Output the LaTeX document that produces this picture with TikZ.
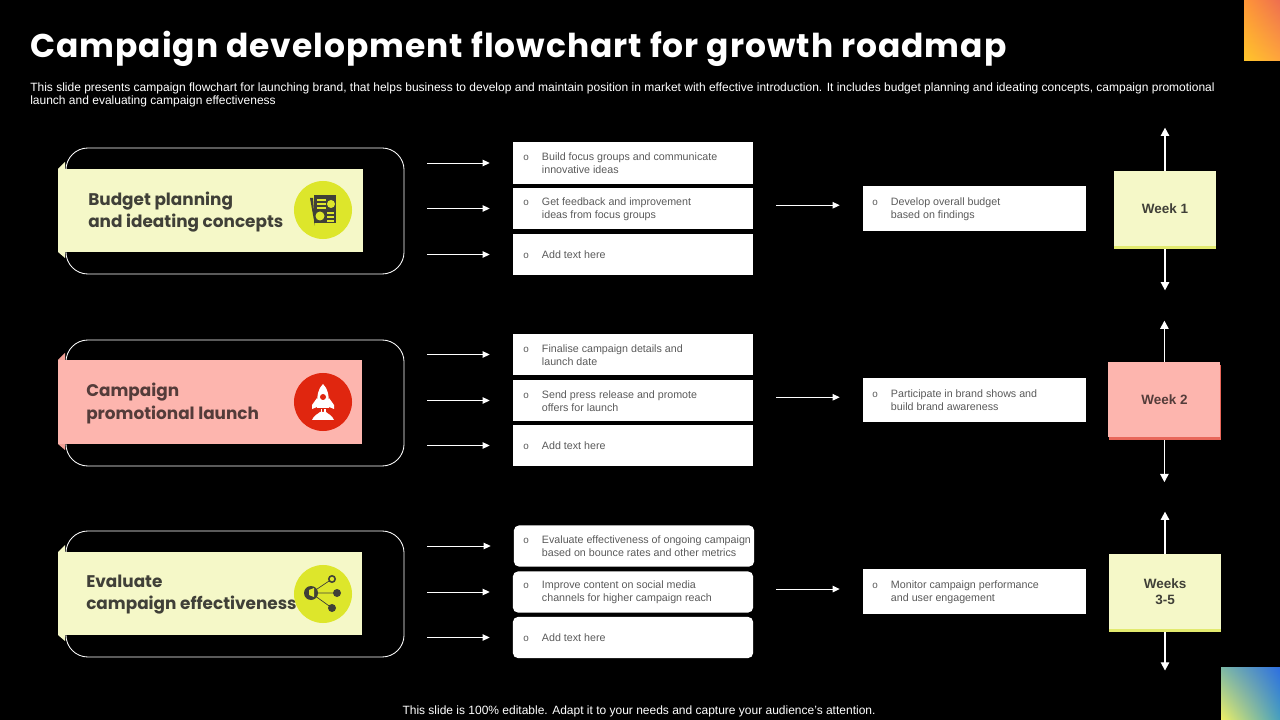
\documentclass[tikz,border=0pt]{standalone}
\usepackage{fontspec}
\setmainfont{Liberation Sans}
\newfontfamily\headfont[LetterSpace=3]{Poppins}
\newfontfamily\stagefont{Poppins}
\usepackage{tikz}
\usetikzlibrary{calc,positioning,shadows,shadings,arrows.meta}
\definecolor{cream}{RGB}{245,248,200}
\definecolor{creamedge}{RGB}{226,234,110}
\definecolor{lime}{RGB}{221,230,43}
\definecolor{pink}{RGB}{253,181,174}
\definecolor{pinkedge}{RGB}{232,103,90}
\definecolor{fold}{RGB}{240,160,150}
\definecolor{redmark}{RGB}{224,38,15}
\definecolor{ink}{RGB}{64,64,56}
\definecolor{inkred}{RGB}{84,60,58}
\definecolor{bodygray}{RGB}{90,90,90}
\definecolor{cornerul}{RGB}{125,185,165}
\definecolor{cornerur}{RGB}{45,110,225}
\definecolor{cornerll}{RGB}{240,240,100}
\definecolor{cornerlr}{RGB}{70,160,190}
\definecolor{flameul}{RGB}{255,150,55}
\definecolor{flameur}{RGB}{238,110,80}
\definecolor{flamell}{RGB}{255,198,42}
\definecolor{flamelr}{RGB}{255,165,60}
\tikzset{%
  stage/.style={draw=white, line width=0.6pt, rounded corners=0.55cm, minimum width=8.45cm, minimum height=3.15cm},% rounded frame
  ribbon/.style={minimum width=7.6cm, minimum height=2.08cm, inner sep=0pt},
  stagetext/.style={font=\stagefont\bfseries\fontsize{12pt}{15.7pt}\selectfont, align=left, inner sep=0pt},
  stagemark/.style={shape=circle, minimum size=1.45cm, inner sep=0pt},
  itembox/.style={fill=white, minimum width=6cm, minimum height=1.025cm, inner sep=0pt},
  resultbox/.style={fill=white, minimum width=5.575cm, minimum height=1.12cm, inner sep=0pt},
  itemtext/.style={font=\fontsize{7.6pt}{9.3pt}\selectfont, text=bodygray, align=left, inner sep=0pt, yshift=-0.3pt},
  weekbox/.style={font=\bfseries\fontsize{9.6pt}{11.6pt}\selectfont, align=center, inner sep=0pt, minimum height=1.875cm},
  flow/.style={draw=white, line width=0.7pt, -{Triangle[length=5pt,width=4.6pt]}, shorten <=0.575cm, shorten >=0.575cm},
  weekflow/.style={draw=white, line width=0.8pt, -{Triangle[length=5.8pt,width=6pt]}}
}
\newcommand*{\bul}{\makebox[0pt][r]{{\fontsize{7pt}{8pt}\selectfont o}\hspace{0.33cm}}}
\begin{document}
\begin{tikzpicture}[x=0.025cm,y=-0.025cm]
\useasboundingbox (0,0) rectangle (1280,720);
\fill[black] (0,0) rectangle (1280,720);

% corner marks
\shade[upper left=flameul, upper right=flameur, lower left=flamell, lower right=flamelr] (1244,0) rectangle (1280,61);
\shade[upper left=cornerul, upper right=cornerur, lower left=cornerll, lower right=cornerlr] (1221,667) rectangle (1280,720);

% heading
\node[anchor=west, inner sep=0pt, text=white, font=\headfont\bfseries\fontsize{23.4pt}{28pt}\selectfont] (title) at (30,49) {Campaign development flowchart for growth roadmap};
\node[anchor=north west, inner sep=0pt, text=white, align=left, font=\fontsize{8.54pt}{9.3pt}\selectfont] (intro) at (30,82.5) {This slide presents campaign flowchart for launching brand, that helps business to develop and maintain position in market with effective introduction. It includes budget planning and ideating concepts, campaign promotional\\launch and evaluating campaign effectiveness};
\node[inner sep=0pt, text=white, font=\fontsize{8.53pt}{10pt}\selectfont] (note) at (639,711) {This slide is 100\% editable. Adapt it to your needs and capture your audience's attention.};

% left stages
\node[stage] (fa) at (235,211) {};
\node[stage] (fb) at (235,403) {};
\node[stage] (fc) at (235,594) {};
\fill[cream] (58,169) -- (65,162) -- (65,258) -- (58,252) -- cycle;
\fill[fold] (58,360) -- (65,353) -- (65,450) -- (58,444) -- cycle;
\fill[cream] (58,552) -- (65,545) -- (65,641) -- (58,635) -- cycle;
\node[ribbon, fill=cream] (ra) at (210.5,210.5) {};
\node[ribbon, fill=pink] (rb) at (210,402) {};
\node[ribbon, fill=cream] (rc) at (210,593.5) {};
\node[stagetext, text=ink, anchor=west] (ta) at (88,212) {Budget planning\\and ideating concepts};
\node[stagetext, text=inkred, anchor=west] (tb) at (86,403.5) {Campaign\\promotional launch};
\node[stagetext, text=ink, anchor=west] (tc) at (86,594.5) {Evaluate\\campaign effectiveness};
\node[stagemark, fill=lime] (ma) at (323,210) {};
\node[stagemark, fill=redmark] (mb) at (323,402) {};
\node[stagemark, fill=lime] (mc) at (323,594) {};

% document mark
\begin{scope}[shift={(ma.center)}]
  \fill[ink] (-13,-12) -- (-10,-12) -- (-8,16) -- (-8,16) -- cycle;
  \fill[ink] (-9,-15) rectangle (13,13);
  \fill[lime] (-6,-11) rectangle (3,-9);
  \fill[lime] (-6,-7) rectangle (3,-5);
  \fill[lime] (-6,-3) rectangle (3,-1);
  \fill[lime] (8,-6) circle (4);
  \fill[lime] (-3,6) circle (4.5);
  \fill[lime] (4,2) rectangle (11,4);
  \fill[lime] (4,6) rectangle (11,8);
  \fill[lime] (4,10) rectangle (11,12);
\end{scope}

% rocket mark
\begin{scope}[shift={(mb.center)}]
  \fill[white] (0,-18) .. controls (5,-13) and (6,-8) .. (6,6) -- (-6,6) .. controls (-6,-8) and (-5,-13) .. (0,-18) -- cycle;
  \fill[white] (-6,-4) -- (-11,3) -- (-11,7) -- (-6,5) -- cycle;
  \fill[white] (6,-4) -- (11,3) -- (11,7) -- (6,5) -- cycle;
  \fill[redmark] (0,-5) circle (3);
  \fill[white] (-11,18) .. controls (-9,13) and (-5,12) .. (-3,10) -- (3,10) .. controls (5,12) and (9,13) .. (11,18) -- cycle;
  \fill[white] (-2.5,7) rectangle (-1,11);
  \fill[white] (1,7) rectangle (2.5,11);
\end{scope}

% network mark
\begin{scope}[shift={(mc.center)}]
  \draw[ink, line width=0.5pt] (-12,-1) -- (9,-15) (-12,-1) -- (14,-1) (-12,-1) -- (9,14);
  \fill[ink] (-12,-1) circle (7);
  \fill[lime] (-14,-4) -- (-9,-6) -- (-9,3) -- (-14,1) -- cycle;
  \filldraw[ink, fill=lime, line width=1.1pt] (9,-15) circle (3.2);
  \fill[ink] (14,-1) circle (4);
  \fill[ink] (9,14) circle (4);
\end{scope}

% first row
\node[itembox] (ba) at (633,163) {};
\node[itembox] (bb) at (633,208.5) {};
\node[itembox] (bc) at (633,254.5) {};
\node[itemtext, right=0.725cm of ba.west] (tba) {\bul Build focus groups and communicate\\innovative ideas};
\node[itemtext, right=0.725cm of bb.west] (tbb) {\bul Get feedback and improvement\\ideas from focus groups};
\node[itemtext, right=0.725cm of bc.west] (tbc) {\bul Add text here};
\node[resultbox] (ea) at (974.5,208.5) {};
\node[itemtext, right=0.7cm of ea.west] (tea) {\bul Develop overall budget\\based on findings};
\node[weekbox, fill=cream, minimum width=2.55cm, text=ink, general shadow={fill=creamedge, shadow xshift=0pt, shadow yshift=-2.1pt}] (wa) at (1165,208.5) {Week 1};

% second row
\node[itembox] (bd) at (633,354.5) {};
\node[itembox] (be) at (633,400.5) {};
\node[itembox] (bf) at (633,445.5) {};
\node[itemtext, right=0.725cm of bd.west] (tbd) {\bul Finalise campaign details and\\launch date};
\node[itemtext, right=0.725cm of be.west] (tbe) {\bul Send press release and promote\\offers for launch};
\node[itemtext, right=0.725cm of bf.west] (tbf) {\bul Add text here};
\node[resultbox] (eb) at (974.5,400) {};
\node[itemtext, right=0.7cm of eb.west] (teb) {\bul Participate in brand shows and\\build brand awareness};
\node[weekbox, fill=pink, minimum width=2.8cm, text=inkred, general shadow={fill=pinkedge, shadow xshift=0.7pt, shadow yshift=-2.1pt}] (wb) at (1164.4,399.5) {Week 2};

% third row
\node[itembox, rounded corners=0.12cm] (bg) at (634,546) {};
\node[itembox, rounded corners=0.12cm] (bh) at (633,592) {};
\node[itembox, rounded corners=0.12cm] (bi) at (633,637.5) {};
\node[itemtext, right=0.7cm of bg.west] (tbg) {\bul Evaluate effectiveness of ongoing campaign\\based on bounce rates and other metrics};
\node[itemtext, right=0.725cm of bh.west] (tbh) {\bul Improve content on social media\\channels for higher campaign reach};
\node[itemtext, right=0.725cm of bi.west] (tbi) {\bul Add text here};
\node[resultbox] (ec) at (974.5,591.5) {};
\node[itemtext, right=0.7cm of ec.west] (tec) {\bul Monitor campaign performance\\and user engagement};
\node[weekbox, fill=cream, minimum width=2.8cm, text=ink, general shadow={fill=creamedge, shadow xshift=0pt, shadow yshift=-2.1pt}] (wc) at (1165,591.5) {Weeks\\3-5};

% arrows to the items
\draw[flow] (fa.east |- ba.west) -- (ba.west);
\draw[flow] (fa.east |- bb.west) -- (bb.west);
\draw[flow] (fa.east |- bc.west) -- (bc.west);
\draw[flow] (fb.east |- bd.west) -- (bd.west);
\draw[flow] (fb.east |- be.west) -- (be.west);
\draw[flow] (fb.east |- bf.west) -- (bf.west);
\draw[flow] (fc.east |- bg.west) -- (bg.west);
\draw[flow] (fc.east |- bh.west) -- (bh.west);
\draw[flow] (fc.east |- bi.west) -- (bi.west);

% arrows to the results
\draw[flow] ([yshift=2.3pt]bb.east) -- ([yshift=2.3pt]bb.east -| ea.west);
\draw[flow] ([yshift=2.3pt]be.east) -- ([yshift=2.3pt]be.east -| eb.west);
\draw[flow] ([yshift=2.1pt]bh.east) -- ([yshift=2.1pt]bh.east -| ec.west);

% week arrows
\coordinate[above=1.075cm of wa.north] (wat);
\coordinate[below=1.1cm of wa.south] (wab);
\coordinate[above=1.025cm of wb.north] (wbt);
\coordinate[below=1.12cm of wb.south] (wbb);
\coordinate[above=1.05cm of wc.north] (wct);
\coordinate[below=1.03cm of wc.south] (wcb);
\draw[weekflow] (wa.north) -- (wat);
\draw[weekflow, shorten <=0.075cm] (wa.south) -- (wab);
\draw[weekflow] (wb.north) -- (wbt);
\draw[weekflow, shorten <=0.075cm] (wb.south) -- (wbb);
\draw[weekflow] (wc.north) -- (wct);
\draw[weekflow, shorten <=0.075cm] (wc.south) -- (wcb);

\end{tikzpicture}
\end{document}
